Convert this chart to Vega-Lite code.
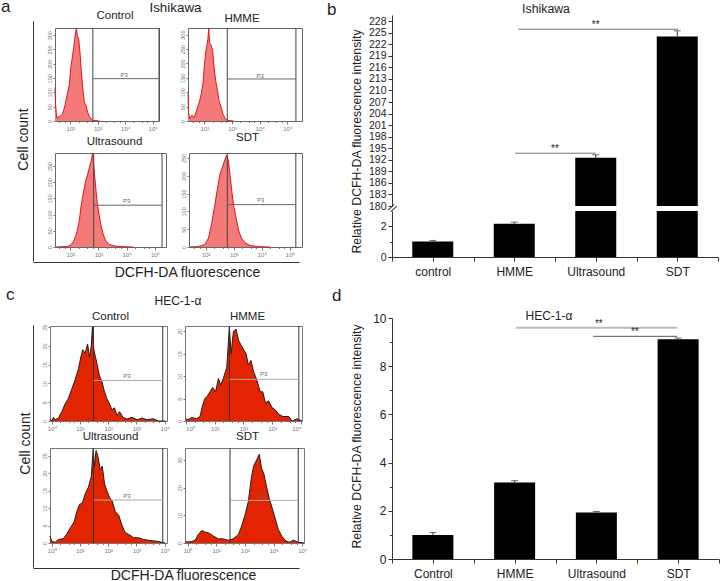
{"$schema":"https://vega.github.io/schema/vega-lite/v6.json","background":"white","padding":{"left":1,"top":-2,"right":0,"bottom":0},"spacing":359,"bounds":"flush","config":{"view":{"stroke":null},"font":"Liberation Sans","title":{"font":"Liberation Sans","fontSize":11.5,"fontWeight":"normal","color":"#222"},"axis":{"grid":false,"labelOverlap":false,"labelFont":"Liberation Sans","titleFont":"Liberation Sans","titleFontWeight":"normal","labelColor":"#222","titleColor":"#222","domainColor":"#333","tickColor":"#333"},"concat":{"spacing":0}},
"datasets":{
"a1":[{"log":1.44,"count":117},{"log":1.46,"count":60},{"log":1.5,"count":12},{"log":1.6,"count":15},{"log":1.7,"count":22},{"log":1.78,"count":45},{"log":1.84,"count":70},{"log":1.9,"count":100},{"log":1.96,"count":125},{"log":2.02,"count":190},{"log":2.09,"count":235},{"log":2.15,"count":280},{"log":2.18,"count":300},{"log":2.22,"count":325},{"log":2.26,"count":295},{"log":2.3,"count":290},{"log":2.35,"count":240},{"log":2.4,"count":175},{"log":2.45,"count":115},{"log":2.51,"count":65},{"log":2.57,"count":55},{"log":2.63,"count":30},{"log":2.7,"count":15},{"log":2.76,"count":7},{"log":2.84,"count":2},{"log":3.06,"count":0}],
"a2":[{"log":1.41,"count":95},{"log":1.43,"count":30},{"log":1.47,"count":8},{"log":1.55,"count":20},{"log":1.64,"count":12},{"log":1.73,"count":40},{"log":1.82,"count":65},{"log":1.89,"count":95},{"log":1.95,"count":130},{"log":2.0,"count":190},{"log":2.05,"count":240},{"log":2.1,"count":265},{"log":2.13,"count":285},{"log":2.16,"count":323},{"log":2.19,"count":270},{"log":2.24,"count":265},{"log":2.3,"count":245},{"log":2.35,"count":190},{"log":2.41,"count":140},{"log":2.47,"count":110},{"log":2.53,"count":70},{"log":2.6,"count":50},{"log":2.67,"count":25},{"log":2.76,"count":8},{"log":2.84,"count":2},{"log":3.06,"count":0}],
"a3":[{"log":1.5,"count":0},{"log":1.74,"count":1},{"log":1.92,"count":2},{"log":2.04,"count":8},{"log":2.12,"count":18},{"log":2.21,"count":38},{"log":2.31,"count":75},{"log":2.39,"count":130},{"log":2.48,"count":175},{"log":2.55,"count":205},{"log":2.62,"count":225},{"log":2.69,"count":250},{"log":2.74,"count":265},{"log":2.79,"count":290},{"log":2.83,"count":255},{"log":2.89,"count":195},{"log":2.95,"count":140},{"log":3.01,"count":105},{"log":3.08,"count":70},{"log":3.17,"count":38},{"log":3.26,"count":18},{"log":3.38,"count":8},{"log":3.58,"count":3},{"log":3.88,"count":1},{"log":4.24,"count":0}],
"a4":[{"log":1.44,"count":0},{"log":1.68,"count":1},{"log":1.86,"count":4},{"log":1.98,"count":8},{"log":2.1,"count":25},{"log":2.21,"count":65},{"log":2.33,"count":120},{"log":2.42,"count":165},{"log":2.51,"count":205},{"log":2.6,"count":225},{"log":2.68,"count":245},{"log":2.75,"count":258},{"log":2.81,"count":240},{"log":2.87,"count":200},{"log":2.94,"count":150},{"log":3.01,"count":110},{"log":3.1,"count":75},{"log":3.18,"count":45},{"log":3.27,"count":25},{"log":3.4,"count":12},{"log":3.58,"count":4},{"log":3.88,"count":1},{"log":4.3,"count":0}],
"c1":[{"log":-0.06,"count":0.5},{"log":0,"count":0},{"log":0.06,"count":1},{"log":0.12,"count":0.3},{"log":0.24,"count":0.8},{"log":0.36,"count":2.5},{"log":0.47,"count":4.5},{"log":0.59,"count":6},{"log":0.71,"count":8.5},{"log":0.83,"count":11},{"log":0.95,"count":14},{"log":1.03,"count":17},{"log":1.1,"count":19},{"log":1.18,"count":18},{"log":1.27,"count":20.5},{"log":1.34,"count":17},{"log":1.4,"count":20},{"log":1.44,"count":25},{"log":1.49,"count":19},{"log":1.55,"count":17},{"log":1.61,"count":15},{"log":1.69,"count":12},{"log":1.78,"count":10.5},{"log":1.86,"count":8},{"log":1.95,"count":6},{"log":2.05,"count":4.5},{"log":2.13,"count":3},{"log":2.22,"count":3.5},{"log":2.31,"count":1.5},{"log":2.4,"count":2.5},{"log":2.52,"count":1},{"log":2.66,"count":0.5},{"log":2.84,"count":1},{"log":3.02,"count":0.3},{"log":3.2,"count":0.8},{"log":3.37,"count":0.3},{"log":3.59,"count":0.6},{"log":3.79,"count":0},{"log":4.02,"count":0}],
"c2":[{"log":0,"count":0.5},{"log":0.08,"count":0.3},{"log":0.2,"count":0.8},{"log":0.37,"count":0.5},{"log":0.49,"count":1},{"log":0.58,"count":3.5},{"log":0.66,"count":5},{"log":0.74,"count":5.5},{"log":0.84,"count":6.5},{"log":0.93,"count":7.5},{"log":1.03,"count":6.5},{"log":1.13,"count":9.5},{"log":1.21,"count":8},{"log":1.3,"count":9.5},{"log":1.42,"count":12},{"log":1.51,"count":21},{"log":1.57,"count":15},{"log":1.65,"count":20},{"log":1.74,"count":20.5},{"log":1.83,"count":18},{"log":1.91,"count":17},{"log":2.0,"count":16},{"log":2.09,"count":15},{"log":2.17,"count":12.5},{"log":2.26,"count":13.5},{"log":2.35,"count":11},{"log":2.47,"count":9},{"log":2.58,"count":6.5},{"log":2.67,"count":6.5},{"log":2.76,"count":4},{"log":2.87,"count":4.5},{"log":2.99,"count":3},{"log":3.1,"count":2.5},{"log":3.22,"count":1.5},{"log":3.37,"count":1},{"log":3.57,"count":1},{"log":3.69,"count":0},{"log":3.86,"count":0.5},{"log":4.03,"count":0}],
"c3":[{"log":-0.06,"count":2},{"log":0,"count":0.5},{"log":0.12,"count":0.2},{"log":0.24,"count":1},{"log":0.41,"count":1.2},{"log":0.53,"count":2.5},{"log":0.67,"count":4.5},{"log":0.79,"count":6},{"log":0.89,"count":9},{"log":0.98,"count":11},{"log":1.09,"count":11.5},{"log":1.18,"count":14},{"log":1.3,"count":16},{"log":1.4,"count":19},{"log":1.47,"count":27},{"log":1.51,"count":22},{"log":1.57,"count":26.5},{"log":1.63,"count":25},{"log":1.72,"count":21},{"log":1.79,"count":22},{"log":1.87,"count":17},{"log":1.95,"count":15},{"log":2.05,"count":13},{"log":2.14,"count":12},{"log":2.25,"count":9},{"log":2.37,"count":8},{"log":2.49,"count":5},{"log":2.6,"count":3},{"log":2.72,"count":2.5},{"log":2.9,"count":1.5},{"log":3.08,"count":1.5},{"log":3.25,"count":1},{"log":3.49,"count":0.7},{"log":3.73,"count":0.5},{"log":4.02,"count":0}],
"c4":[{"log":-0.09,"count":0.3},{"log":0.14,"count":0.5},{"log":0.26,"count":1},{"log":0.37,"count":3},{"log":0.49,"count":4.5},{"log":0.6,"count":4},{"log":0.76,"count":3.5},{"log":0.9,"count":2.5},{"log":1.07,"count":1.5},{"log":1.24,"count":1.5},{"log":1.42,"count":1},{"log":1.59,"count":1.5},{"log":1.77,"count":3},{"log":1.88,"count":6},{"log":2.0,"count":10},{"log":2.12,"count":15},{"log":2.23,"count":24},{"log":2.31,"count":28},{"log":2.41,"count":30},{"log":2.5,"count":32},{"log":2.58,"count":27},{"log":2.66,"count":25},{"log":2.76,"count":20},{"log":2.85,"count":16},{"log":2.94,"count":13},{"log":3.05,"count":9},{"log":3.16,"count":5},{"log":3.28,"count":2.5},{"log":3.43,"count":0.7},{"log":3.55,"count":0.3},{"log":3.69,"count":1},{"log":3.86,"count":0.3},{"log":4.06,"count":0}],
"ga1":[{"left":2.82,"right":5.23,"gy":148,"px":3.96,"py":160,"gate":"P3"}],
"ga2":[{"left":2.83,"right":5.31,"gy":146,"px":4.02,"py":156,"gate":"P3"}],
"ga3":[{"left":2.83,"right":5.25,"gy":129,"px":4.0,"py":141,"gate":"P3"}],
"ga4":[{"left":2.77,"right":5.21,"gy":119,"px":3.96,"py":131,"gate":"P3"}],
"gc1":[{"left":1.48,"right":3.93,"gy":10.8,"px":2.66,"py":12,"gate":"P3"}],
"gc2":[{"left":1.51,"right":3.92,"gy":9.3,"px":2.7,"py":10.4,"gate":"P3"}],
"gc3":[{"left":1.48,"right":3.93,"gy":12.3,"px":2.66,"py":13.5,"gate":"P3"}],
"gc4":[{"left":1.48,"right":3.86,"gy":15.4,"px":2.64,"py":16.8,"gate":"P3"}],
"barsB":[{"group":"control","pos":1,"value":1.0,"err":1.07},{"group":"HMME","pos":2,"value":2.15,"err":2.25},{"group":"Ultrasound","pos":3,"value":192.5,"err":193.3},{"group":"SDT","pos":4,"value":224,"err":225.5}],
"barsD":[{"group":"Control","pos":1,"value":1.0,"err":1.1},{"group":"HMME","pos":2,"value":3.17,"err":3.25},{"group":"Ultrasound","pos":3,"value":1.93,"err":1.97},{"group":"SDT","pos":4,"value":9.12,"err":9.17}]
},
"hconcat":[
{"vconcat":[
{"vconcat":[
{"width":269,"height":1,"data":{"values":[]},"mark":"rule","encoding":{}},
{"vconcat":[
{"hconcat":[
{"width":1,"height":240,"title":{"text":"a","anchor":"start","dx":-15,"offset":5,"fontSize":17},"data":{"values":[{"f":0}]},"mark":{"type":"point","opacity":0},"encoding":{"y":{"field":"f","type":"quantitative","scale":{"domain":[0,1]},"axis":{"title":"Cell count","titleFontSize":14,"titleX":-3,"titleY":118,"ticks":false,"labels":false}}}},
{"vconcat":[
{"width":247,"height":1,"title":{"text":"Ishikawa","fontSize":13.4,"offset":7,"dx":-3},"data":{"values":[]},"mark":"rule","encoding":{}},
{"vconcat":[
{"hconcat":[
{"width":104,"height":93,"title":{"text":"Control","offset":5,"dx":8},"view":{"stroke":"#666"},"layer":[
{"data":{"name":"a1"},"mark":{"type":"area","color":"#f47a7a"},"encoding":{"x":{"field":"log","type":"quantitative","title":null,"scale":{"domain":[1.44,5.23],"nice":false,"zero":false},"axis":{"tickCount":40,"values":[1.6,1.8,2,2.3,2.6,2.8,3,3.3,3.6,3.8,4,4.3,4.6,4.8,5],"labelExpr":"datum.value%1==0?'10'+['⁰','¹','²','³','⁴','⁵'][datum.value]:''","labelFontSize":6,"labelColor":"#777","tickColor":"#777","tickSize":{"condition":{"test":"datum.value%1==0","value":3},"value":1.5},"labelPadding":1,"domain":false,"labelOverlap":false}},"y":{"field":"count","type":"quantitative","title":null,"scale":{"domain":[0,325],"nice":false},"axis":{"tickCount":40,"format":"d","values":[0,50,100,150,200,250,300],"labelAngle":-90,"labelFontSize":5.5,"labelColor":"#777","tickColor":"#777","tickSize":2,"labelPadding":1,"domain":false,"labelAlign":"center","labelBaseline":"bottom","labelOverlap":false}}}},
{"data":{"name":"a1"},"mark":{"type":"line","color":"#e3141c","strokeWidth":1},"encoding":{"x":{"field":"log","type":"quantitative","title":null},"y":{"field":"count","type":"quantitative","title":null}}},
{"data":{"name":"ga1"},"layer":[
{"mark":{"type":"rule","color":"#444","strokeWidth":1},"encoding":{"x":{"field":"left","type":"quantitative","title":null}}},
{"mark":{"type":"rule","color":"#444","strokeWidth":1},"encoding":{"x":{"field":"right","type":"quantitative","title":null}}},
{"mark":{"type":"rule","color":"#666","strokeWidth":1},"encoding":{"x":{"field":"left","type":"quantitative","title":null},"x2":{"field":"right"},"y":{"field":"gy","type":"quantitative","title":null}}},
{"mark":{"type":"text","fontSize":6,"color":"#666"},"encoding":{"x":{"field":"px","type":"quantitative","title":null},"y":{"field":"py","type":"quantitative","title":null},"text":{"field":"gate"}}}]}]},
{"width":114,"height":93,"title":{"text":"HMME","offset":2,"dx":-3},"view":{"stroke":"#666"},"layer":[
{"data":{"name":"a2"},"mark":{"type":"area","color":"#f47a7a"},"encoding":{"x":{"field":"log","type":"quantitative","title":null,"scale":{"domain":[1.41,5.53],"nice":false,"zero":false},"axis":{"tickCount":40,"values":[1.6,1.8,2,2.3,2.6,2.8,3,3.3,3.6,3.8,4,4.3,4.6,4.8,5],"labelExpr":"datum.value%1==0?'10'+['⁰','¹','²','³','⁴','⁵'][datum.value]:''","labelFontSize":6,"labelColor":"#777","tickColor":"#777","tickSize":{"condition":{"test":"datum.value%1==0","value":3},"value":1.5},"labelPadding":1,"domain":false,"labelOverlap":false}},"y":{"field":"count","type":"quantitative","title":null,"scale":{"domain":[0,323],"nice":false},"axis":{"tickCount":40,"format":"d","values":[0,50,100,150,200,250,300],"labelAngle":-90,"labelFontSize":5.5,"labelColor":"#777","tickColor":"#777","tickSize":2,"labelPadding":1,"domain":false,"labelAlign":"center","labelBaseline":"bottom","labelOverlap":false}}}},
{"data":{"name":"a2"},"mark":{"type":"line","color":"#e3141c","strokeWidth":1},"encoding":{"x":{"field":"log","type":"quantitative","title":null},"y":{"field":"count","type":"quantitative","title":null}}},
{"data":{"name":"ga2"},"layer":[
{"mark":{"type":"rule","color":"#444","strokeWidth":1},"encoding":{"x":{"field":"left","type":"quantitative","title":null}}},
{"mark":{"type":"rule","color":"#444","strokeWidth":1},"encoding":{"x":{"field":"right","type":"quantitative","title":null}}},
{"mark":{"type":"rule","color":"#666","strokeWidth":1},"encoding":{"x":{"field":"left","type":"quantitative","title":null},"x2":{"field":"right"},"y":{"field":"gy","type":"quantitative","title":null}}},
{"mark":{"type":"text","fontSize":6,"color":"#666"},"encoding":{"x":{"field":"px","type":"quantitative","title":null},"y":{"field":"py","type":"quantitative","title":null},"text":{"field":"gate"}}}]}]}
],"spacing":29,"bounds":"flush"},
{"hconcat":[
{"width":111,"height":94,"title":{"text":"Ultrasound","offset":4,"dx":4},"view":{"stroke":"#666"},"layer":[
{"data":{"name":"a3"},"mark":{"type":"area","color":"#f47a7a"},"encoding":{"x":{"field":"log","type":"quantitative","title":null,"scale":{"domain":[1.46,5.39],"nice":false,"zero":false},"axis":{"tickCount":40,"values":[1.6,1.8,2,2.3,2.6,2.8,3,3.3,3.6,3.8,4,4.3,4.6,4.8,5],"labelExpr":"datum.value%1==0?'10'+['⁰','¹','²','³','⁴','⁵'][datum.value]:''","labelFontSize":6,"labelColor":"#777","tickColor":"#777","tickSize":{"condition":{"test":"datum.value%1==0","value":3},"value":1.5},"labelPadding":1,"domain":false,"labelOverlap":false}},"y":{"field":"count","type":"quantitative","title":null,"scale":{"domain":[0,290],"nice":false},"axis":{"tickCount":40,"format":"d","values":[0,50,100,150,200,250],"labelAngle":-90,"labelFontSize":5.5,"labelColor":"#777","tickColor":"#777","tickSize":2,"labelPadding":1,"domain":false,"labelAlign":"center","labelBaseline":"bottom","labelOverlap":false}}}},
{"data":{"name":"a3"},"mark":{"type":"line","color":"#e3141c","strokeWidth":1},"encoding":{"x":{"field":"log","type":"quantitative","title":null},"y":{"field":"count","type":"quantitative","title":null}}},
{"data":{"name":"ga3"},"layer":[
{"mark":{"type":"rule","color":"#444","strokeWidth":1},"encoding":{"x":{"field":"left","type":"quantitative","title":null}}},
{"mark":{"type":"rule","color":"#444","strokeWidth":1},"encoding":{"x":{"field":"right","type":"quantitative","title":null}}},
{"mark":{"type":"rule","color":"#666","strokeWidth":1},"encoding":{"x":{"field":"left","type":"quantitative","title":null},"x2":{"field":"right"},"y":{"field":"gy","type":"quantitative","title":null}}},
{"mark":{"type":"text","fontSize":6,"color":"#666"},"encoding":{"x":{"field":"px","type":"quantitative","title":null},"y":{"field":"py","type":"quantitative","title":null},"text":{"field":"gate"}}}]}]},
{"width":113,"height":94,"title":{"text":"SDT","offset":9,"dx":2},"view":{"stroke":"#666"},"layer":[
{"data":{"name":"a4"},"mark":{"type":"area","color":"#f47a7a"},"encoding":{"x":{"field":"log","type":"quantitative","title":null,"scale":{"domain":[1.405,5.43],"nice":false,"zero":false},"axis":{"tickCount":40,"values":[1.6,1.8,2,2.3,2.6,2.8,3,3.3,3.6,3.8,4,4.3,4.6,4.8,5],"labelExpr":"datum.value%1==0?'10'+['⁰','¹','²','³','⁴','⁵'][datum.value]:''","labelFontSize":6,"labelColor":"#777","tickColor":"#777","tickSize":{"condition":{"test":"datum.value%1==0","value":3},"value":1.5},"labelPadding":1,"domain":false,"labelOverlap":false}},"y":{"field":"count","type":"quantitative","title":null,"scale":{"domain":[0,264],"nice":false},"axis":{"tickCount":40,"format":"d","values":[0,50,100,150,200,250],"labelAngle":-90,"labelFontSize":5.5,"labelColor":"#777","tickColor":"#777","tickSize":2,"labelPadding":1,"domain":false,"labelAlign":"center","labelBaseline":"bottom","labelOverlap":false}}}},
{"data":{"name":"a4"},"mark":{"type":"line","color":"#e3141c","strokeWidth":1},"encoding":{"x":{"field":"log","type":"quantitative","title":null},"y":{"field":"count","type":"quantitative","title":null}}},
{"data":{"name":"ga4"},"layer":[
{"mark":{"type":"rule","color":"#444","strokeWidth":1},"encoding":{"x":{"field":"left","type":"quantitative","title":null}}},
{"mark":{"type":"rule","color":"#444","strokeWidth":1},"encoding":{"x":{"field":"right","type":"quantitative","title":null}}},
{"mark":{"type":"rule","color":"#666","strokeWidth":1},"encoding":{"x":{"field":"left","type":"quantitative","title":null},"x2":{"field":"right"},"y":{"field":"gy","type":"quantitative","title":null}}},
{"mark":{"type":"text","fontSize":6,"color":"#666"},"encoding":{"x":{"field":"px","type":"quantitative","title":null},"y":{"field":"py","type":"quantitative","title":null},"text":{"field":"gate"}}}]}]}
],"spacing":23,"bounds":"flush"}
],"spacing":125,"bounds":"flush"}
],"spacing":6,"bounds":"flush"}
],"spacing":21,"bounds":"flush"},
{"width":266,"height":1,"data":{"values":[{"f":0}]},"mark":{"type":"point","opacity":0},"encoding":{"x":{"field":"f","type":"quantitative","scale":{"domain":[0,1]},"axis":{"title":"DCFH-DA fluorescence","titleFontSize":14,"titleX":154,"titleY":3,"ticks":false,"labels":false}}}}
],"spacing":240,"bounds":"flush"}
],"spacing":5,"bounds":"flush"},
{"vconcat":[
{"hconcat":[
{"width":1,"height":242,"title":{"text":"c","anchor":"start","dx":-12,"offset":21,"fontSize":17},"data":{"values":[{"f":0}]},"mark":{"type":"point","opacity":0},"encoding":{"y":{"field":"f","type":"quantitative","scale":{"domain":[0,1]},"axis":{"title":"Cell count","titleFontSize":14,"titleX":-1,"titleY":118,"ticks":false,"labels":false}}}},
{"vconcat":[
{"width":254,"height":1,"title":{"text":"HEC-1-α","fontSize":12,"offset":17,"dx":1},"data":{"values":[]},"mark":"rule","encoding":{}},
{"vconcat":[
{"hconcat":[
{"width":117,"height":95,"title":{"text":"Control","offset":2,"dx":2},"view":{"stroke":"#777"},"layer":[
{"data":{"name":"c1"},"mark":{"type":"area","color":"#e32400"},"encoding":{"x":{"field":"log","type":"quantitative","title":null,"scale":{"domain":[-0.06,4.08],"nice":false,"zero":false},"axis":{"tickCount":40,"values":[0,0.3,0.6,0.8,1,1.3,1.6,1.8,2,2.3,2.6,2.8,3,3.3,3.6,3.8,4],"labelExpr":"datum.value%1==0?'10'+['⁰','¹','²','³','⁴','⁵'][datum.value]:''","labelFontSize":6,"labelColor":"#777","tickColor":"#777","tickSize":{"condition":{"test":"datum.value%1==0","value":3},"value":1.5},"labelPadding":1,"domain":false,"labelOverlap":false}},"y":{"field":"count","type":"quantitative","title":null,"scale":{"domain":[0,25.3],"nice":false},"axis":{"tickCount":40,"format":"d","values":[0,5,10,15,20,25],"labelAngle":-90,"labelFontSize":5.5,"labelColor":"#777","tickColor":"#777","tickSize":2,"labelPadding":1,"domain":false,"labelAlign":"center","labelBaseline":"bottom","labelOverlap":false}}}},
{"data":{"name":"c1"},"mark":{"type":"line","color":"#2a1a1a","strokeWidth":1},"encoding":{"x":{"field":"log","type":"quantitative","title":null},"y":{"field":"count","type":"quantitative","title":null}}},
{"data":{"name":"gc1"},"layer":[
{"mark":{"type":"rule","color":"#333","strokeWidth":1},"encoding":{"x":{"field":"left","type":"quantitative","title":null}}},
{"mark":{"type":"rule","color":"#333","strokeWidth":1},"encoding":{"x":{"field":"right","type":"quantitative","title":null}}},
{"mark":{"type":"rule","color":"#aaa","strokeWidth":1},"encoding":{"x":{"field":"left","type":"quantitative","title":null},"x2":{"field":"right"},"y":{"field":"gy","type":"quantitative","title":null}}},
{"mark":{"type":"text","fontSize":6,"color":"#666"},"encoding":{"x":{"field":"px","type":"quantitative","title":null},"y":{"field":"py","type":"quantitative","title":null},"text":{"field":"gate"}}}]}]},
{"width":117,"height":95,"title":{"text":"HMME","offset":2,"dx":4},"view":{"stroke":"#777"},"layer":[
{"data":{"name":"c2"},"mark":{"type":"area","color":"#e32400"},"encoding":{"x":{"field":"log","type":"quantitative","title":null,"scale":{"domain":[-0.03,4.03],"nice":false,"zero":false},"axis":{"tickCount":40,"values":[0,0.3,0.6,0.8,1,1.3,1.6,1.8,2,2.3,2.6,2.8,3,3.3,3.6,3.8,4],"labelExpr":"datum.value%1==0?'10'+['⁰','¹','²','³','⁴','⁵'][datum.value]:''","labelFontSize":6,"labelColor":"#777","tickColor":"#777","tickSize":{"condition":{"test":"datum.value%1==0","value":3},"value":1.5},"labelPadding":1,"domain":false,"labelOverlap":false}},"y":{"field":"count","type":"quantitative","title":null,"scale":{"domain":[0,21.2],"nice":false},"axis":{"tickCount":40,"format":"d","values":[0,5,10,15,20],"labelAngle":-90,"labelFontSize":5.5,"labelColor":"#777","tickColor":"#777","tickSize":2,"labelPadding":1,"domain":false,"labelAlign":"center","labelBaseline":"bottom","labelOverlap":false}}}},
{"data":{"name":"c2"},"mark":{"type":"line","color":"#2a1a1a","strokeWidth":1},"encoding":{"x":{"field":"log","type":"quantitative","title":null},"y":{"field":"count","type":"quantitative","title":null}}},
{"data":{"name":"gc2"},"layer":[
{"mark":{"type":"rule","color":"#333","strokeWidth":1},"encoding":{"x":{"field":"left","type":"quantitative","title":null}}},
{"mark":{"type":"rule","color":"#333","strokeWidth":1},"encoding":{"x":{"field":"right","type":"quantitative","title":null}}},
{"mark":{"type":"rule","color":"#aaa","strokeWidth":1},"encoding":{"x":{"field":"left","type":"quantitative","title":null},"x2":{"field":"right"},"y":{"field":"gy","type":"quantitative","title":null}}},
{"mark":{"type":"text","fontSize":6,"color":"#666"},"encoding":{"x":{"field":"px","type":"quantitative","title":null},"y":{"field":"py","type":"quantitative","title":null},"text":{"field":"gate"}}}]}]}
],"spacing":18,"bounds":"flush"},
{"hconcat":[
{"width":117,"height":95,"title":{"text":"Ultrasound","offset":4,"dx":2},"view":{"stroke":"#777"},"layer":[
{"data":{"name":"c3"},"mark":{"type":"area","color":"#e32400"},"encoding":{"x":{"field":"log","type":"quantitative","title":null,"scale":{"domain":[-0.06,4.08],"nice":false,"zero":false},"axis":{"tickCount":40,"values":[0,0.3,0.6,0.8,1,1.3,1.6,1.8,2,2.3,2.6,2.8,3,3.3,3.6,3.8,4],"labelExpr":"datum.value%1==0?'10'+['⁰','¹','²','³','⁴','⁵'][datum.value]:''","labelFontSize":6,"labelColor":"#777","tickColor":"#777","tickSize":{"condition":{"test":"datum.value%1==0","value":3},"value":1.5},"labelPadding":1,"domain":false,"labelOverlap":false}},"y":{"field":"count","type":"quantitative","title":null,"scale":{"domain":[0,27.2],"nice":false},"axis":{"tickCount":40,"format":"d","values":[0,5,10,15,20,25],"labelAngle":-90,"labelFontSize":5.5,"labelColor":"#777","tickColor":"#777","tickSize":2,"labelPadding":1,"domain":false,"labelAlign":"center","labelBaseline":"bottom","labelOverlap":false}}}},
{"data":{"name":"c3"},"mark":{"type":"line","color":"#2a1a1a","strokeWidth":1},"encoding":{"x":{"field":"log","type":"quantitative","title":null},"y":{"field":"count","type":"quantitative","title":null}}},
{"data":{"name":"gc3"},"layer":[
{"mark":{"type":"rule","color":"#333","strokeWidth":1},"encoding":{"x":{"field":"left","type":"quantitative","title":null}}},
{"mark":{"type":"rule","color":"#333","strokeWidth":1},"encoding":{"x":{"field":"right","type":"quantitative","title":null}}},
{"mark":{"type":"rule","color":"#aaa","strokeWidth":1},"encoding":{"x":{"field":"left","type":"quantitative","title":null},"x2":{"field":"right"},"y":{"field":"gy","type":"quantitative","title":null}}},
{"mark":{"type":"text","fontSize":6,"color":"#666"},"encoding":{"x":{"field":"px","type":"quantitative","title":null},"y":{"field":"py","type":"quantitative","title":null},"text":{"field":"gate"}}}]}]},
{"width":119,"height":95,"title":{"text":"SDT","offset":5,"dx":3},"view":{"stroke":"#777"},"layer":[
{"data":{"name":"c4"},"mark":{"type":"area","color":"#e32400"},"encoding":{"x":{"field":"log","type":"quantitative","title":null,"scale":{"domain":[-0.09,4.06],"nice":false,"zero":false},"axis":{"tickCount":40,"values":[0,0.3,0.6,0.8,1,1.3,1.6,1.8,2,2.3,2.6,2.8,3,3.3,3.6,3.8,4],"labelExpr":"datum.value%1==0?'10'+['⁰','¹','²','³','⁴','⁵'][datum.value]:''","labelFontSize":6,"labelColor":"#777","tickColor":"#777","tickSize":{"condition":{"test":"datum.value%1==0","value":3},"value":1.5},"labelPadding":1,"domain":false,"labelOverlap":false}},"y":{"field":"count","type":"quantitative","title":null,"scale":{"domain":[0,34.3],"nice":false},"axis":{"tickCount":40,"format":"d","values":[0,10,20,30],"labelAngle":-90,"labelFontSize":5.5,"labelColor":"#777","tickColor":"#777","tickSize":2,"labelPadding":1,"domain":false,"labelAlign":"center","labelBaseline":"bottom","labelOverlap":false}}}},
{"data":{"name":"c4"},"mark":{"type":"line","color":"#2a1a1a","strokeWidth":1},"encoding":{"x":{"field":"log","type":"quantitative","title":null},"y":{"field":"count","type":"quantitative","title":null}}},
{"data":{"name":"gc4"},"layer":[
{"mark":{"type":"rule","color":"#333","strokeWidth":1},"encoding":{"x":{"field":"left","type":"quantitative","title":null}}},
{"mark":{"type":"rule","color":"#333","strokeWidth":1},"encoding":{"x":{"field":"right","type":"quantitative","title":null}}},
{"mark":{"type":"rule","color":"#aaa","strokeWidth":1},"encoding":{"x":{"field":"left","type":"quantitative","title":null},"x2":{"field":"right"},"y":{"field":"gy","type":"quantitative","title":null}}},
{"mark":{"type":"text","fontSize":6,"color":"#666"},"encoding":{"x":{"field":"px","type":"quantitative","title":null},"y":{"field":"py","type":"quantitative","title":null},"text":{"field":"gate"}}}]}]}
],"spacing":18,"bounds":"flush"}
],"spacing":122,"bounds":"flush"}
],"spacing":0,"bounds":"flush"}
],"spacing":16,"bounds":"flush"},
{"width":266,"height":1,"data":{"values":[{"f":0}]},"mark":{"type":"point","opacity":0},"encoding":{"x":{"field":"f","type":"quantitative","scale":{"domain":[0,1]},"axis":{"title":"DCFH-DA fluorescence","titleFontSize":14,"titleX":150,"titleY":0,"ticks":false,"labels":false}}}}
],"spacing":242,"bounds":"flush"}
],"spacing":310,"bounds":"flush"},
{"vconcat":[
{"vconcat":[
{"width":326,"height":191,"title":{"text":"b","anchor":"start","dx":-23,"offset":-16,"fontSize":17},"layer":[
{"data":{"name":"barsB"},"transform":[{"filter":"datum.value>=180"}],"mark":{"type":"bar","color":"black","width":41,"clip":true},"encoding":{"x":{"field":"pos","type":"quantitative","title":null,"scale":{"domain":[0.5,4.5],"nice":false,"zero":false,"padding":0},"axis":null},"y":{"field":"value","type":"quantitative","scale":{"domain":[180,229.6],"nice":false,"zero":false},"axis":{"tickCount":40,"format":"d","title":"Relative DCFH-DA fluorescence intensity","titleFontSize":12.3,"titleX":-29,"titleY":126,"values":[180,183,186,189,192,195,198,201,204,207,210,213,216,219,222,225,228],"labelFontSize":10.5,"labelPadding":2,"tickSize":4,"labelOverlap":false}},"y2":{"datum":180}}},
{"data":{"name":"barsB"},"transform":[{"filter":"datum.value>=180"}],"mark":{"type":"rule","color":"#333"},"encoding":{"x":{"field":"pos","type":"quantitative","title":null},"y":{"field":"value","type":"quantitative"},"y2":{"field":"err"}}},
{"data":{"name":"barsB"},"transform":[{"filter":"datum.value>=180"}],"mark":{"type":"tick","color":"#333","orient":"horizontal","size":7,"thickness":1},"encoding":{"x":{"field":"pos","type":"quantitative","title":null},"y":{"field":"err","type":"quantitative"}}},
{"data":{"values":[{"from":2.05,"to":4.01,"level":225.9},{"from":2.01,"to":3.0,"level":193.7}]},"mark":{"type":"rule","color":"#777"},"encoding":{"x":{"field":"from","type":"quantitative","title":null},"x2":{"field":"to"},"y":{"field":"level","type":"quantitative"}}},
{"data":{"values":[{"tx":3.0,"ty":226.9,"note":"**"},{"tx":2.5,"ty":194.8,"note":"**"}]},"mark":{"type":"text","fontSize":10,"color":"#222"},"encoding":{"x":{"field":"tx","type":"quantitative","title":null},"y":{"field":"ty","type":"quantitative"},"text":{"field":"note"}}},
{"data":{"values":[{"tx":2.39,"ty":231.2,"note":"Ishikawa"}]},"mark":{"type":"text","fontSize":12.3,"color":"#222"},"encoding":{"x":{"field":"tx","type":"quantitative","title":null},"y":{"field":"ty","type":"quantitative"},"text":{"field":"note"}}}
]},
{"width":326,"height":46,"layer":[
{"data":{"name":"barsB"},"mark":{"type":"bar","color":"black","width":41,"clip":true},"encoding":{"x":{"field":"pos","type":"quantitative","title":null,"scale":{"domain":[0.5,4.5],"nice":false,"zero":false,"padding":0},"axis":{"tickCount":40,"values":[0.5,1,1.5,2,2.5,3,3.5,4,4.5],"labelExpr":"datum.value==1?'control':datum.value==2?'HMME':datum.value==3?'Ultrasound':datum.value==4?'SDT':''","labelFontSize":12,"labelPadding":5,"tickSize":4,"labelOverlap":false,"labelBound":false}},"y":{"field":"value","type":"quantitative","scale":{"domain":[0,2.97],"nice":false},"axis":{"tickCount":40,"format":"d","title":null,"values":[0,1,2],"labelExpr":"datum.value==1?'':datum.label","labelFontSize":10.5,"labelPadding":2,"tickSize":{"condition":{"test":"datum.value==1","value":2.5},"value":4},"labelOverlap":false}}}},
{"data":{"name":"barsB"},"transform":[{"filter":"datum.value<180"}],"mark":{"type":"rule","color":"#333"},"encoding":{"x":{"field":"pos","type":"quantitative","title":null},"y":{"field":"value","type":"quantitative"},"y2":{"field":"err"}}},
{"data":{"name":"barsB"},"transform":[{"filter":"datum.value<180"}],"mark":{"type":"tick","color":"#333","orient":"horizontal","size":7,"thickness":1},"encoding":{"x":{"field":"pos","type":"quantitative","title":null},"y":{"field":"err","type":"quantitative"}}},
{"data":{"values":[{"tx":0.5,"ty":3.1,"note":"//"}]},"mark":{"type":"text","fontSize":11,"color":"#222","angle":30},"encoding":{"x":{"field":"tx","type":"quantitative","title":null},"y":{"field":"ty","type":"quantitative"},"text":{"field":"note"}}}
]}
],"spacing":5,"bounds":"flush"},
{"width":327,"height":241,"title":{"text":"d","anchor":"start","dx":-18,"offset":5,"fontSize":17},"layer":[
{"data":{"name":"barsD"},"mark":{"type":"bar","color":"black","width":41},"encoding":{"x":{"field":"pos","type":"quantitative","title":null,"scale":{"domain":[0.5,4.5],"nice":false,"zero":false,"padding":0},"axis":{"tickCount":40,"values":[0.5,1,1.5,2,2.5,3,3.5,4,4.5],"labelExpr":"datum.value==1?'Control':datum.value==2?'HMME':datum.value==3?'Ultrasound':datum.value==4?'SDT':''","labelFontSize":12,"labelPadding":5,"tickSize":4,"labelOverlap":false,"labelBound":false}},"y":{"field":"value","type":"quantitative","scale":{"domain":[0,10],"nice":false},"axis":{"tickCount":40,"format":"d","title":"Relative DCFH-DA fluorescence intensity","titleFontSize":12.3,"titleX":-29,"titleY":118,"values":[0,1,2,3,4,5,6,7,8,9,10],"labelExpr":"datum.value%2==1?'':datum.label","labelFontSize":12,"labelPadding":2,"tickSize":{"condition":{"test":"datum.value%2==1","value":2.5},"value":4},"labelOverlap":false}}}},
{"data":{"name":"barsD"},"mark":{"type":"rule","color":"#333"},"encoding":{"x":{"field":"pos","type":"quantitative","title":null},"y":{"field":"value","type":"quantitative"},"y2":{"field":"err"}}},
{"data":{"name":"barsD"},"mark":{"type":"tick","color":"#333","orient":"horizontal","size":7,"thickness":1},"encoding":{"x":{"field":"pos","type":"quantitative","title":null},"y":{"field":"err","type":"quantitative"}}},
{"data":{"values":[{"from":2.02,"to":3.99,"level":9.6}]},"mark":{"type":"rule","color":"#bbb","strokeWidth":2},"encoding":{"x":{"field":"from","type":"quantitative","title":null},"x2":{"field":"to"},"y":{"field":"level","type":"quantitative"}}},
{"data":{"values":[{"from":2.96,"to":3.99,"level":9.24}]},"mark":{"type":"rule","color":"#555"},"encoding":{"x":{"field":"from","type":"quantitative","title":null},"x2":{"field":"to"},"y":{"field":"level","type":"quantitative"}}},
{"data":{"values":[{"tx":3.03,"ty":9.75,"note":"**"},{"tx":3.47,"ty":9.42,"note":"**"}]},"mark":{"type":"text","fontSize":10,"color":"#222"},"encoding":{"x":{"field":"tx","type":"quantitative","title":null},"y":{"field":"ty","type":"quantitative"},"text":{"field":"note"}}},
{"data":{"values":[{"tx":2.42,"ty":10.1,"note":"HEC-1-α"}]},"mark":{"type":"text","fontSize":12,"color":"#222"},"encoding":{"x":{"field":"tx","type":"quantitative","title":null},"y":{"field":"ty","type":"quantitative"},"text":{"field":"note"}}}
]}
],"spacing":303,"bounds":"flush"}
]}
